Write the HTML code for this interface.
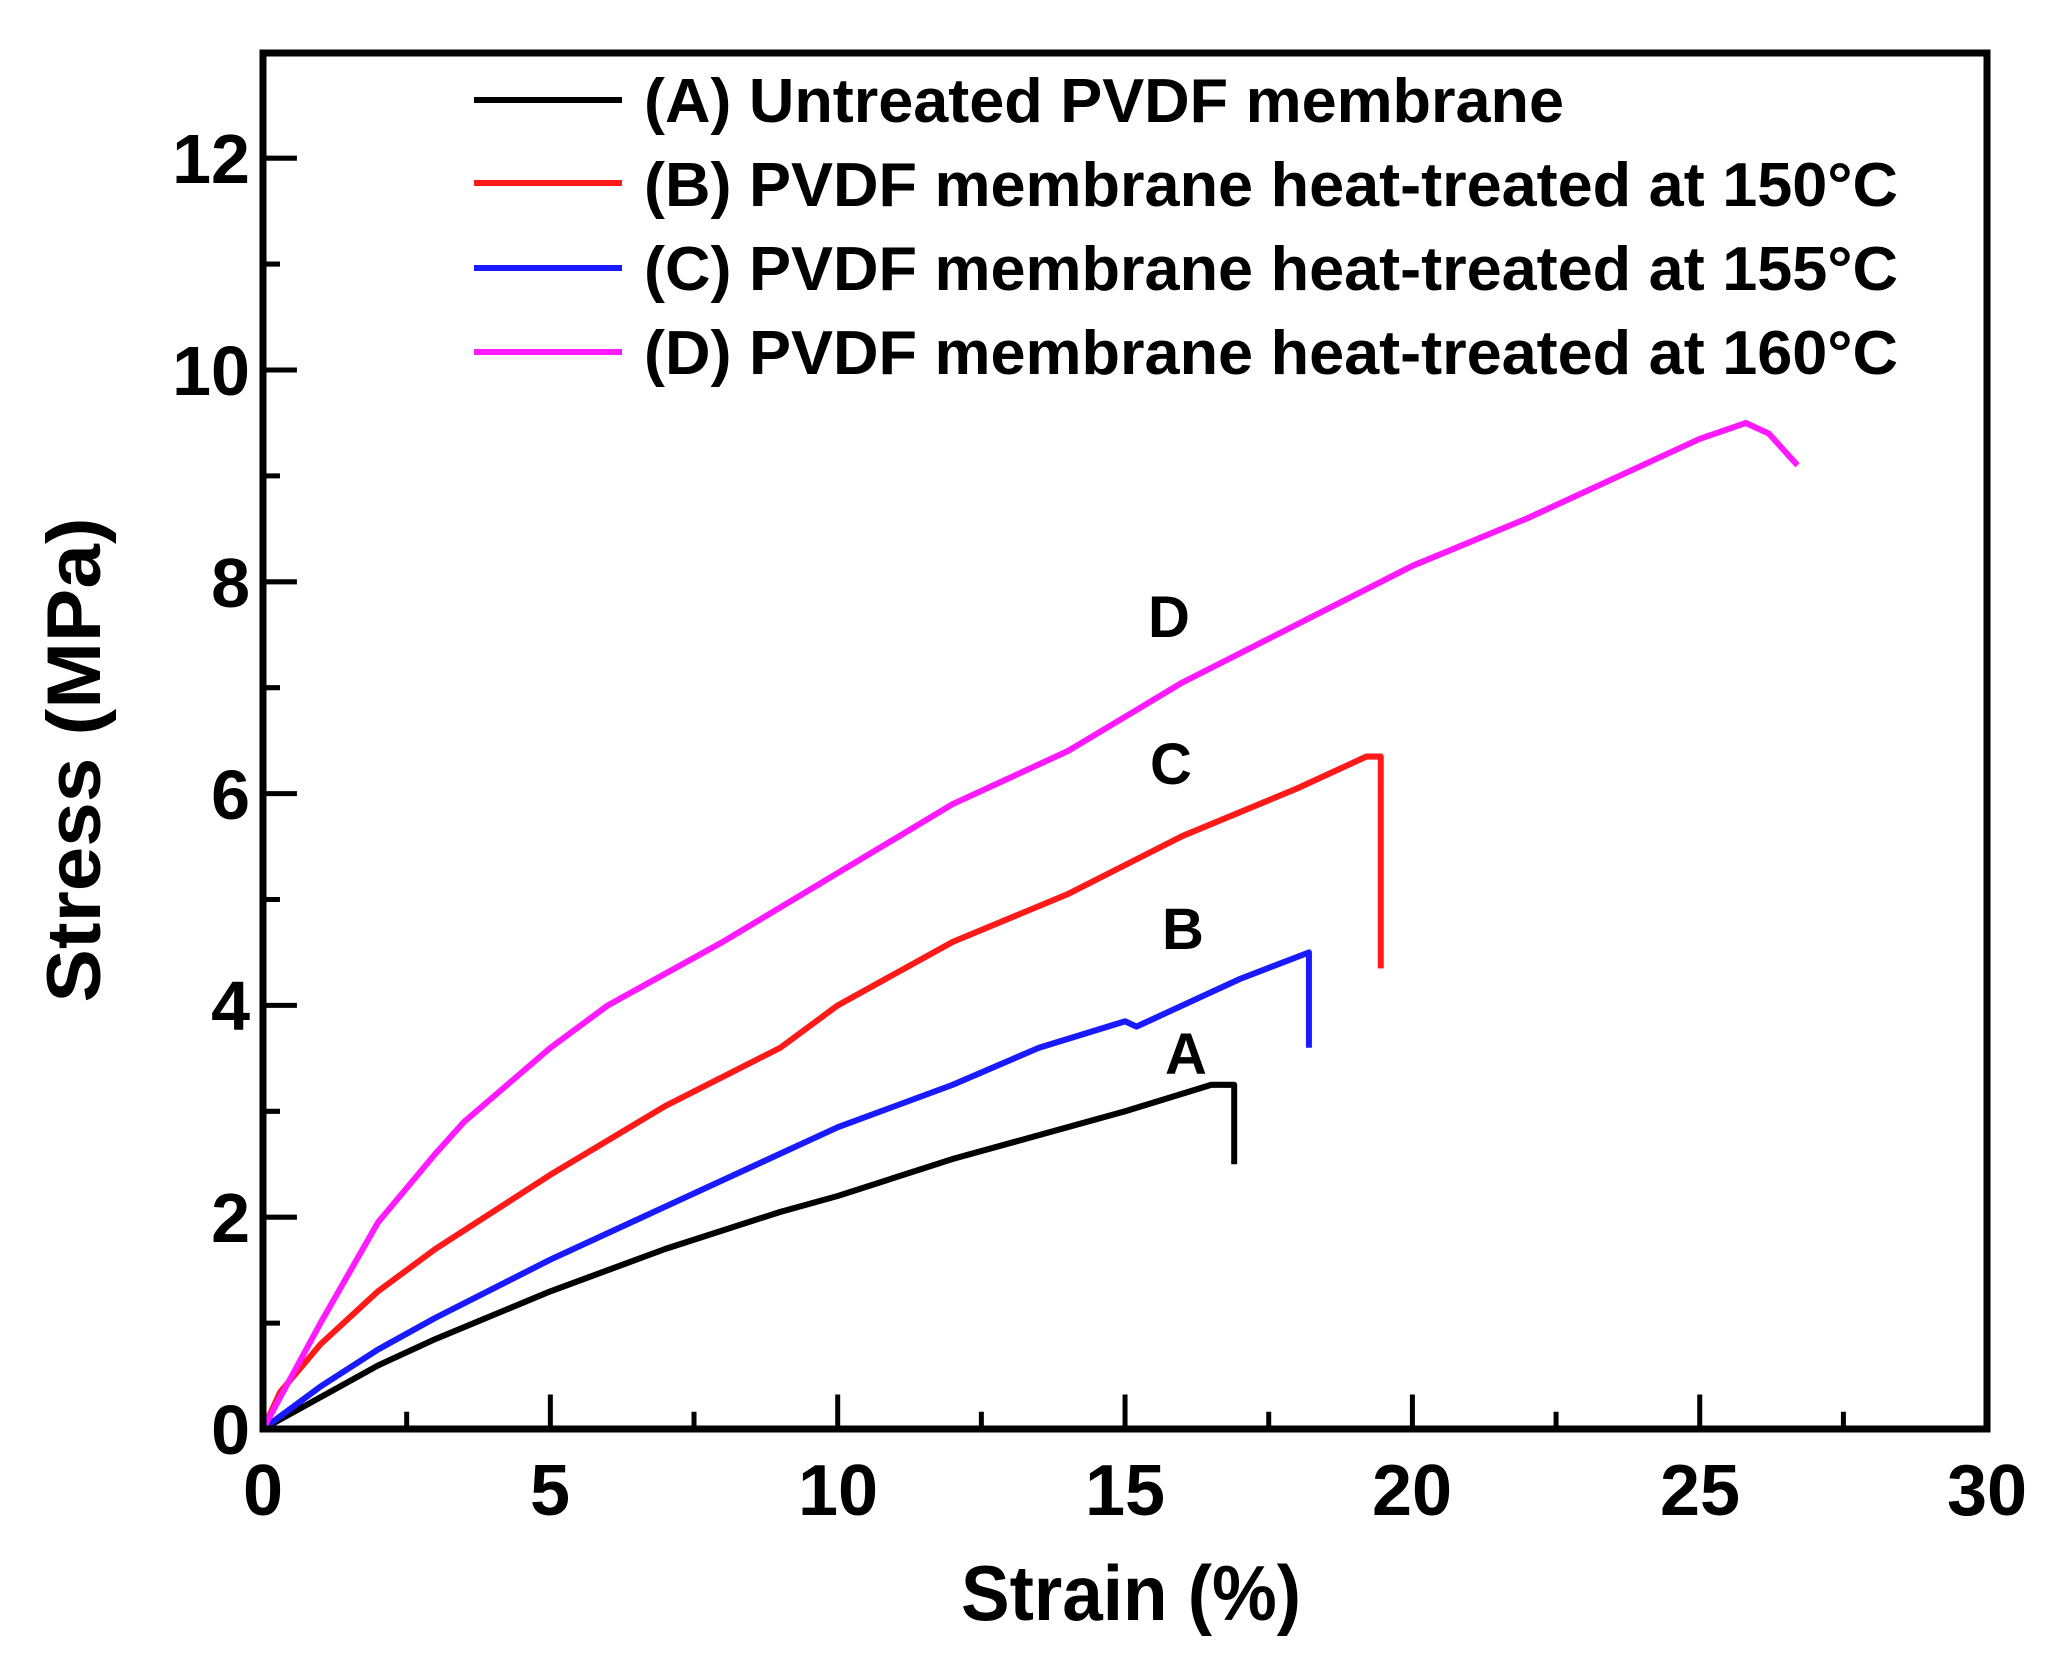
<!DOCTYPE html>
<html><head><meta charset="utf-8"><style>html,body{margin:0;padding:0;background:#fff;overflow:hidden}svg{display:block}</style></head>
<body>
<svg width="2064" height="1667" viewBox="0 0 2064 1667" xmlns="http://www.w3.org/2000/svg" font-family="'Liberation Sans', sans-serif" font-weight="bold">
<rect width="2064" height="1667" fill="#fff"/>
<g transform="translate(263,1429) scale(0.99774,1.01437) translate(-263,-1449)">
<g stroke="#000" stroke-width="5" fill="none">
<path d="M263,1449V1415M551,1449V1415M839,1449V1415M1127,1449V1415M1415,1449V1415M1703,1449V1415"/>
<path d="M407,1449V1432M695,1449V1432M983,1449V1432M1271,1449V1432M1559,1449V1432M1847,1449V1432"/>
<path d="M263,1240.2H297M263,1031.4H297M263,822.6H297M263,613.8H297M263,405H297M263,196.2H297"/>
<path d="M263,1344.6H280M263,1135.8H280M263,927H280M263,718.2H280M263,509.4H280M263,300.6H280M263,91.8H280"/>
</g>
<g fill="none" stroke-width="6" stroke-linejoin="round">
<polyline stroke="#000" points="263,1449 320.6,1417.7 378.2,1386.4 435.8,1360.3 551,1313.3 666.2,1271.5 781.4,1235 839,1219.3 954.2,1182.8 1069.4,1151.5 1127,1135.8 1213.4,1109.7 1236.4,1109.7 1236.4,1188"/>
<polyline stroke="#1a1aff" points="263,1449 320.6,1407.2 378.2,1370.7 435.8,1339.4 551,1282 666.2,1229.8 781.4,1177.6 839,1151.5 954.2,1109.7 1040.6,1073.2 1127,1047.1 1138.5,1052.3 1184.6,1031.4 1242.2,1005.3 1311.3,979.2 1311.3,1073.2"/>
<polyline stroke="#ff1a1a" points="263,1449 280.3,1412.5 320.6,1365.5 378.2,1313.3 435.8,1271.5 551,1198.4 666.2,1130.6 781.4,1073.2 839,1031.4 954.2,968.8 1069.4,921.8 1184.6,864.4 1299.8,817.4 1368.9,786.1 1383.3,786.1 1383.3,994.9"/>
<polyline stroke="#ff1aff" points="263,1449 291.8,1396.8 320.6,1344.6 378.2,1245.4 435.8,1177.6 464.6,1146.2 551,1073.2 608.6,1031.4 723.8,968.8 839,900.9 954.2,833 1069.4,780.8 1184.6,713 1299.8,655.6 1415,598.1 1530.2,551.2 1645.4,499 1703,472.9 1749.1,457.2 1772.1,467.6 1801,499"/>
</g>
</g>
<rect x="263" y="53" width="1724" height="1376" fill="none" stroke="#000" stroke-width="7"/>
<g font-size="70" text-anchor="end">
<text x="250" y="1454">0</text><text x="250" y="1242">2</text><text x="250" y="1030">4</text><text x="250" y="819">6</text><text x="250" y="607">8</text><text x="250" y="395">10</text><text x="250" y="183">12</text>
</g>
<g font-size="72" text-anchor="middle">
<text x="263" y="1515">0</text><text x="550" y="1515">5</text><text x="838" y="1515">10</text><text x="1125" y="1515">15</text><text x="1412" y="1515">20</text><text x="1700" y="1515">25</text><text x="1987" y="1515">30</text>
</g>
<text x="1131" y="1620" font-size="78" text-anchor="middle" textLength="340" lengthAdjust="spacingAndGlyphs">Strain (%)</text>
<text transform="translate(100,760) rotate(-90)" font-size="76" text-anchor="middle" textLength="485" lengthAdjust="spacingAndGlyphs">Stress (MPa)</text>
<g font-size="58">
<text x="1148" y="637">D</text><text x="1150" y="784">C</text><text x="1162" y="949">B</text><text x="1165" y="1074">A</text>
</g>
<g stroke-width="6">
<line x1="474" y1="100" x2="622" y2="100" stroke="#000"/>
<line x1="474" y1="183" x2="622" y2="183" stroke="#ff1a1a"/>
<line x1="474" y1="268" x2="622" y2="268" stroke="#1a1aff"/>
<line x1="474" y1="352" x2="622" y2="352" stroke="#ff1aff"/>
</g>
<g font-size="62">
<text x="644" y="122" textLength="920" lengthAdjust="spacingAndGlyphs">(A) Untreated PVDF membrane</text>
<text x="644" y="206" textLength="1254" lengthAdjust="spacingAndGlyphs">(B) PVDF membrane heat-treated at 150°C</text>
<text x="644" y="290" textLength="1254" lengthAdjust="spacingAndGlyphs">(C) PVDF membrane heat-treated at 155°C</text>
<text x="644" y="374" textLength="1254" lengthAdjust="spacingAndGlyphs">(D) PVDF membrane heat-treated at 160°C</text>
</g>
</svg>
</body></html>
